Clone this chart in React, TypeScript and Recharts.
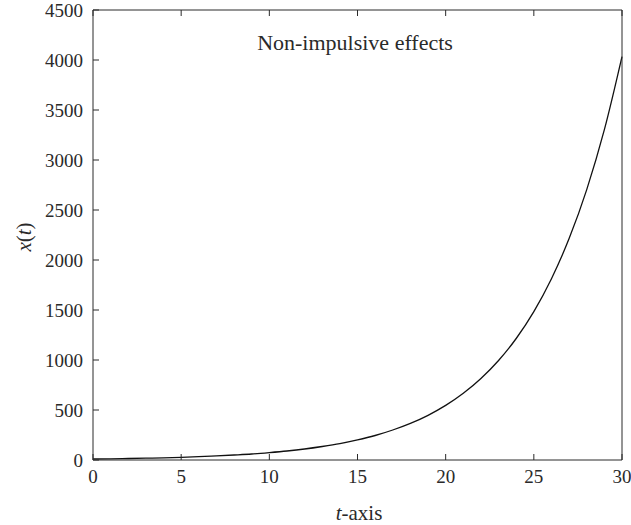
import { Line, LineChart, XAxis, YAxis } from "recharts";

// t from 0 to 30
const tValues = [0, 1, 2, 3, 4, 5, 6, 7, 8, 9, 10, 11, 12, 13, 14, 15, 16, 17, 18, 19, 20, 21, 22, 23, 24, 25, 26, 27, 28, 29, 30];
const xValues = [10, 12, 15, 18, 22, 27, 33, 41, 50, 60, 74, 90, 110, 135, 164, 201, 245, 300, 366, 447, 546, 667, 815, 995, 1215, 1484, 1813, 2214, 2704, 3303, 4034];
const tTicks = [0, 5, 10, 15, 20, 25, 30];
const xTicks = [0, 500, 1000, 1500, 2000, 2500, 3000, 3500, 4000, 4500];

const data = tValues.map((t, i) => ({ t, x: xValues[i] }));

const ink = "#2a2a2a";
const font = "'Liberation Serif', serif";
const fontSize = 19;
const tickLen = 6;
const margin = 10;

function BottomTick({ x, y, payload }: any) {
  const axisY = y - margin;
  return (
    <g>
      <line x1={x} x2={x} y1={axisY} y2={axisY - tickLen} stroke={ink} />
      <text x={x} y={y} dy="0.71em" textAnchor="middle" fill={ink} fontSize={fontSize} fontFamily={font}>{payload.value}</text>
    </g>
  );
}

function LeftTick({ x, y, payload }: any) {
  const axisX = x + margin;
  return (
    <g>
      <line x1={axisX} x2={axisX + tickLen} y1={y} y2={y} stroke={ink} />
      <text x={x} y={y} dy="0.355em" textAnchor="end" fill={ink} fontSize={fontSize} fontFamily={font}>{payload.value}</text>
    </g>
  );
}

function TopTick({ x, y }: any) {
  return <line x1={x} x2={x} y1={y} y2={y + tickLen} stroke={ink} />;
}

function RightTick({ x, y }: any) {
  return <line x1={x} x2={x - tickLen} y1={y} y2={y} stroke={ink} />;
}

export default function App() {
  return (
    <div style={{ position: "absolute", left: 0, top: 0, width: 631, height: 525, background: "#fff", fontFamily: font, color: ink }}>
      <LineChart width={631} height={525} data={data} margin={{ top: 9, right: 8, bottom: 30, left: 0 }}>
        <XAxis dataKey="t" type="number" domain={[0, 30]} ticks={tTicks} height={35} tickSize={0} tickMargin={margin} tickLine={false} axisLine={{ stroke: ink }} tick={<BottomTick />} interval={0} />
        <XAxis xAxisId="top" orientation="top" dataKey="t" type="number" domain={[0, 30]} ticks={tTicks} height={1} tickSize={0} tickMargin={0} tickLine={false} axisLine={{ stroke: ink }} tick={<TopTick />} interval={0} />
        <YAxis type="number" domain={[0, 4500]} ticks={xTicks} width={93} tickSize={0} tickMargin={margin} tickLine={false} axisLine={{ stroke: ink }} tick={<LeftTick />} interval={0} />
        <YAxis yAxisId="right" orientation="right" type="number" domain={[0, 4500]} ticks={xTicks} width={1} tickSize={0} tickMargin={0} tickLine={false} axisLine={{ stroke: ink }} tick={<RightTick />} interval={0} />
        <Line type="monotone" dataKey="x" stroke="#111" strokeWidth={1.3} dot={false} isAnimationActive={false} />
      </LineChart>
      <div style={{ position: "absolute", left: 355, top: 43, transform: "translate(-50%, -50%)", fontSize: 22, whiteSpace: "nowrap" }}>Non-impulsive effects</div>
      <div style={{ position: "absolute", left: 359, top: 513, transform: "translate(-50%, -50%)", fontSize: 21, whiteSpace: "nowrap" }}><i>t</i>-axis</div>
      <div style={{ position: "absolute", left: 24, top: 237, transform: "translate(-50%, -50%) rotate(-90deg)", fontSize: 21, whiteSpace: "nowrap" }}><i>x</i>(<i>t</i>)</div>
    </div>
  );
}
